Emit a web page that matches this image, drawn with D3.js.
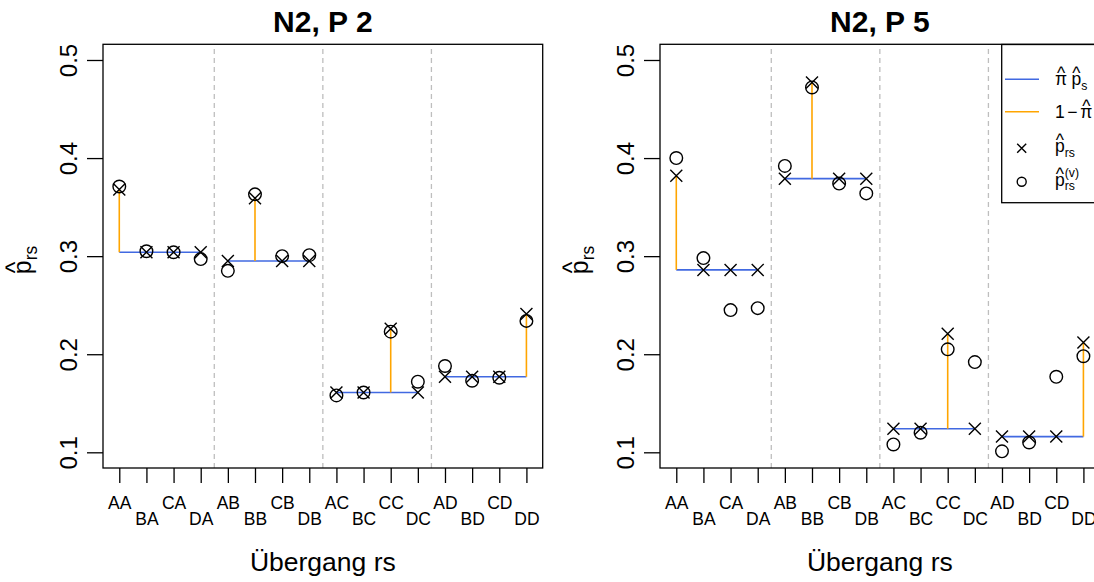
<!DOCTYPE html>
<html><head><meta charset="utf-8">
<script src="https://cdn.jsdelivr.net/npm/d3@7"></script>
<style>
html,body{margin:0;padding:0;background:#fff;}
svg{display:block;font-family:"Liberation Sans",Arial,Helvetica,sans-serif;}
</style></head>
<body>
<svg id="chart" width="1094" height="582"></svg>
<script>
// ---- data ----
const categories = ["AA","BA","CA","DA","AB","BB","CB","DB","AC","BC","CC","DC","AD","BD","CD","DD"];
const yTicks = [0.1, 0.2, 0.3, 0.4, 0.5];
const titleLeft = "N2, P 2";
const titleRight = "N2, P 5";
// P 2 panel
const pHatLeft = [0.368,0.304,0.304,0.304, 0.295,0.359,0.295,0.295, 0.161,0.161,0.226,0.161, 0.177,0.177,0.177,0.241];
const pVLeft   = [0.371,0.305,0.304,0.297, 0.285,0.363,0.300,0.301, 0.158,0.161,0.223,0.172, 0.188,0.173,0.176,0.234];
const piPsLeft = [0.304, 0.295, 0.161, 0.177];
// P 5 panel
const pHatRight = [0.382,0.286,0.286,0.286, 0.379,0.477,0.379,0.379, 0.124,0.124,0.221,0.124, 0.116,0.116,0.116,0.212];
const pVRight   = [0.400,0.298,0.245,0.247, 0.392,0.472,0.374,0.364, 0.108,0.120,0.205,0.192, 0.101,0.110,0.177,0.198];
const piPsRight = [0.286, 0.379, 0.124, 0.116];

const BLUE = "#4169E1", ORANGE = "#FFA500", GREY = "#BEBEBE";
const svg = d3.select("#chart");

function mathLabel(g, pieces, size) {
  let cx = 0, lastX = 0;
  pieces.forEach(p => {
    const fs = size * (p.scale || 1);
    const x0 = p.stack ? lastX : cx;
    const y0 = (p.dy || 0) * size;
    const t = g.append("text").attr("x", x0).attr("y", y0)
      .attr("font-size", fs).attr("fill", "#000").text(p.t);
    const w = t.node().getComputedTextLength();
    if (p.hat) {
      g.append("text").attr("x", x0 + w / 2).attr("y", y0 - fs * (p.hatUp || 0.34))
        .attr("text-anchor", "middle").attr("font-size", fs).attr("fill", "#000").text("^");
    }
    if (!p.stack) lastX = x0;
    cx = Math.max(cx, x0 + w) + (p.gap || 0) * size;
  });
  return cx;
}

function cross(g, x, y, s) {
  g.append("path").attr("d", `M${x-s},${y-s}L${x+s},${y+s}M${x-s},${y+s}L${x+s},${y-s}`)
    .attr("stroke", "#000").attr("stroke-width", 1.4).attr("fill", "none");
}
function circ(g, x, y, r) {
  g.append("circle").attr("cx", x).attr("cy", y).attr("r", r)
    .attr("stroke", "#000").attr("stroke-width", 1.4).attr("fill", "none");
}

function panel(left, right, title, pHat, pV, piPs) {
  const top = 44.3, bottom = 468;
  const x = d3.scaleLinear().domain([0.4, 16.6]).range([left, right]);
  const y = d3.scaleLinear().domain([0.084, 0.516]).range([bottom, top]);
  const g = svg.append("g");

  // dashed separators
  [4.5, 8.5, 12.5].forEach(v => {
    g.append("line").attr("x1", x(v)).attr("x2", x(v)).attr("y1", bottom).attr("y2", top)
      .attr("stroke", GREY).attr("stroke-width", 1.3).attr("stroke-dasharray", "5,4");
  });

  // blue group lines and orange diagonal lines
  piPs.forEach((v, i) => {
    g.append("line").attr("x1", x(i * 4 + 1)).attr("x2", x(i * 4 + 4))
      .attr("y1", y(v)).attr("y2", y(v)).attr("stroke", BLUE).attr("stroke-width", 1.6);
    const di = i * 5; // diagonal index
    g.append("line").attr("x1", x(di + 1)).attr("x2", x(di + 1))
      .attr("y1", y(v)).attr("y2", y(pHat[di])).attr("stroke", ORANGE).attr("stroke-width", 1.6);
  });

  // points
  pHat.forEach((v, i) => cross(g, x(i + 1), y(v), 6));
  pV.forEach((v, i) => circ(g, x(i + 1), y(v), 6.3));

  // box
  g.append("rect").attr("x", left).attr("y", top).attr("width", right - left).attr("height", bottom - top)
    .attr("fill", "none").attr("stroke", "#000").attr("stroke-width", 1.3);

  // y axis
  const ya = g.append("g").attr("transform", `translate(${left},0)`)
    .call(d3.axisLeft(y).tickValues(yTicks).tickSize(16).tickFormat(d3.format(".1f")));
  ya.select(".domain").remove();
  ya.selectAll(".tick line").attr("stroke-width", 1.3);
  ya.selectAll(".tick text").attr("transform", "rotate(-90)").attr("x", 0).attr("y", -26)
    .attr("dy", 0).attr("text-anchor", "middle").attr("font-size", 24)
    .attr("font-family", "Liberation Sans, Arial, sans-serif").attr("fill", "#000");

  // x axis
  const xa = g.append("g").attr("transform", `translate(0,${bottom})`)
    .call(d3.axisBottom(x).tickValues(d3.range(1, 17)).tickSize(15).tickFormat(d => categories[d - 1]));
  xa.select(".domain").remove();
  xa.selectAll(".tick line").attr("stroke-width", 1.3);
  xa.selectAll(".tick text").attr("y", (d, i) => i % 2 === 0 ? 41 : 56.5).attr("dy", 0)
    .attr("font-size", 17.5).attr("font-family", "Liberation Sans, Arial, sans-serif").attr("fill", "#000");

  // title
  g.append("text").attr("x", (left + right) / 2).attr("y", 32).attr("text-anchor", "middle")
    .attr("font-size", 30).attr("font-weight", "bold").text(title);
  // x title
  g.append("text").attr("x", (left + right) / 2).attr("y", 571).attr("text-anchor", "middle")
    .attr("font-size", 26.5).text("Übergang rs");
  // y title (rotated)
  const yl = g.append("g");
  const w = mathLabel(yl, [
    { t: "p", hat: true, hatUp: 0.3 },
    { t: "rs", scale: 0.7, dy: 0.25 }
  ], 25);
  yl.attr("transform", `translate(${left - 72},${260 + w / 2}) rotate(-90)`);
}

panel(103, 542.7, titleLeft, pHatLeft, pVLeft, piPsLeft);
panel(660, 1099.7, titleRight, pHatRight, pVRight, piPsRight);

// legend
const lg = svg.append("g");
lg.append("rect").attr("x", 1001.7).attr("y", 44.5).attr("width", 120).attr("height", 158.2)
  .attr("fill", "#fff").attr("stroke", "#000").attr("stroke-width", 1.3);
const ly = [79.3, 111.7, 148.3, 181.7];
lg.append("line").attr("x1", 1005).attr("x2", 1039).attr("y1", ly[0]).attr("y2", ly[0]).attr("stroke", BLUE).attr("stroke-width", 1.6);
lg.append("line").attr("x1", 1005).attr("x2", 1039).attr("y1", ly[1]).attr("y2", ly[1]).attr("stroke", ORANGE).attr("stroke-width", 1.6);
cross(lg, 1021.7, ly[2], 4.5);
circ(lg, 1021.7, ly[3], 4.5);
const legendSize = 17.5;
const l1 = lg.append("g").attr("transform", `translate(1055,${ly[0] + 6})`);
mathLabel(l1, [{ t: "π", hat: true, gap: 0.25 }, { t: "p", hat: true }, { t: "s", scale: 0.7, dy: 0.25 }], legendSize);
const l2 = lg.append("g").attr("transform", `translate(1055,${ly[1] + 6})`);
mathLabel(l2, [{ t: "1", gap: 0.15 }, { t: "−", gap: 0.15 }, { t: "π", hat: true }], legendSize);
const l3 = lg.append("g").attr("transform", `translate(1055,${ly[2] + 4})`);
mathLabel(l3, [{ t: "p", hat: true }, { t: "rs", scale: 0.7, dy: 0.25 }], legendSize);
const l4 = lg.append("g").attr("transform", `translate(1055,${ly[3] + 4})`);
mathLabel(l4, [{ t: "p", hat: true }, { t: "rs", scale: 0.7, dy: 0.25 }, { t: "(v)", scale: 0.7, dy: -0.5, stack: true }], legendSize);
</script>
</body></html>
